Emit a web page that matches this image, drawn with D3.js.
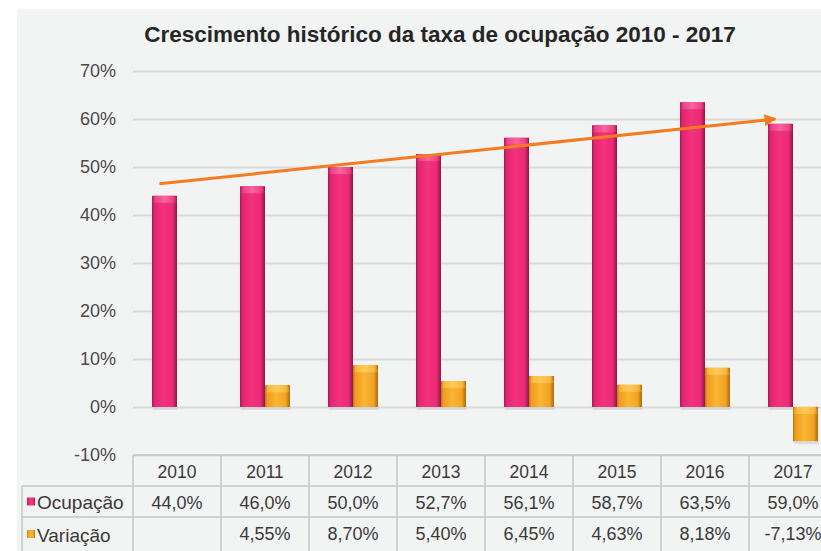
<!DOCTYPE html>
<html><head><meta charset="utf-8">
<script src="https://cdn.jsdelivr.net/npm/d3@7"></script>
<style>body{margin:0;background:#fff} svg{display:block}</style>
</head><body>
<script>
const years = ["2010","2011","2012","2013","2014","2015","2016","2017"];
const ocupacao = [44.0,46.0,50.0,52.7,56.1,58.7,63.5,59.0];
const variacao = [null,4.55,8.70,5.40,6.45,4.63,8.18,-7.13];
const seriesNames = ["Ocupação","Variação"];
const yTicks = [-10,0,10,20,30,40,50,60,70];
const trendYears = ["2010","2017"];
const trendValues = [46.5,60.0];
const title = "Crescimento histórico da taxa de ocupação 2010 - 2017";

const W=821,H=551;
const FONT = "'Liberation Sans', Arial, sans-serif";
const svg = d3.select("body").append("svg").attr("width",W).attr("height",H);
const locale = d3.formatLocale({decimal:",",thousands:".",grouping:[3],currency:["R$",""],minus:"-"});
const f1 = locale.format(".1f"), f2 = locale.format(".2f");

const x = d3.scaleBand().domain(years).range([133,837]).paddingInner(0).paddingOuter(0);
const bw = x.bandwidth();
const xs = d3.scaleBand().domain(seriesNames).range([bw*0.216,bw*0.784]);
const y = d3.scaleLinear().domain([-10,70]).range([455,71]);

const defs = svg.append("defs");
function hgrad(id, stops){
  const g = defs.append("linearGradient").attr("id",id).attr("x1",0).attr("x2",1).attr("y1",0).attr("y2",0);
  stops.forEach(s=>g.append("stop").attr("offset",s[0]).attr("stop-color",s[1]));
}
hgrad("pink",[["0%","#a9175a"],["10%","#e0256e"],["45%","#f4327f"],["82%","#ea2b75"],["100%","#921647"]]);
hgrad("pinkTop",[["0%","#c02064"],["15%","#f0488a"],["50%","#f86aa2"],["85%","#ee4486"],["100%","#b01c5c"]]);
hgrad("orange",[["0%","#b97a12"],["10%","#f09c1e"],["45%","#fbb535"],["82%","#f4a424"],["100%","#a86a0c"]]);
hgrad("orangeTop",[["0%","#d08c18"],["15%","#fbbd45"],["50%","#ffcd5a"],["85%","#f9b840"],["100%","#c48214"]]);
defs.append("marker").attr("id","arrow").attr("viewBox","0 0 10 10").attr("refX",9).attr("refY",5)
  .attr("markerWidth",4).attr("markerHeight",4).attr("orient","auto").attr("markerUnits","strokeWidth")
  .append("path").attr("d","M0,0 L10,5 L0,10 Z").attr("fill","#f47b20");

// panel
svg.append("rect").attr("x",17).attr("y",9).attr("width",W-17).attr("height",H-9).attr("fill","#f2f3f3");

// title
svg.append("text").attr("x",440).attr("y",42).attr("text-anchor","middle")
  .attr("font-family",FONT).attr("font-weight","bold").attr("font-size",22.5).attr("fill","#262626").text(title);

// axis + gridlines
const yAxis = svg.append("g").attr("transform","translate(133,0)")
  .call(d3.axisLeft(y).tickValues(yTicks).tickSize(-(W-133)).tickPadding(17).tickFormat(d=>d+"%"));
yAxis.select(".domain").remove();
yAxis.selectAll(".tick line").attr("stroke","#d8d9d9").attr("stroke-width",2);
yAxis.selectAll(".tick text").attr("font-family",FONT).attr("font-size",18).attr("fill","#4a4a4a");

// bars
const data = years.map((yr,i)=>({year:yr, vals:[{s:"Ocupação",v:ocupacao[i]},{s:"Variação",v:variacao[i]}]}));
const groups = svg.append("g").selectAll("g").data(data).join("g").attr("transform",d=>`translate(${x(d.year)},0)`);
groups.each(function(d){
  const g = d3.select(this);
  d.vals.forEach(o=>{
    if(o.v==null) return;
    const isP = o.s==="Ocupação";
    const x0 = xs(o.s), w = xs.bandwidth();
    const top = y(Math.max(o.v,0)), bot = y(Math.min(o.v,0));
    g.append("rect").attr("x",x0+1).attr("y",bot).attr("width",w).attr("height",3).attr("fill","#c9d0d6").attr("opacity",0.6);
    g.append("rect").attr("x",x0).attr("y",top).attr("width",w).attr("height",bot-top).attr("fill",`url(#${isP?"pink":"orange"})`);
    g.append("path").attr("d",`M${x0+2},${top} L${x0+w-2},${top} L${x0+w},${top+7} L${x0},${top+7} Z`)
      .attr("fill",`url(#${isP?"pinkTop":"orangeTop"})`).attr("opacity",0.9);
  });
});

// trend arrow
svg.append("line")
  .attr("x1",x(trendYears[0])+bw*0.3).attr("y1",y(trendValues[0]))
  .attr("x2",x(trendYears[1])+bw*0.3).attr("y2",y(trendValues[1]))
  .attr("stroke","#f47b20").attr("stroke-width",3).attr("marker-end","url(#arrow)");

// data table
const tb = svg.append("g");
const rowY = [455,486,517,551];
const lc = "#c4c6c6";
tb.append("line").attr("x1",133).attr("x2",W).attr("y1",rowY[0]).attr("y2",rowY[0]).attr("stroke",lc).attr("stroke-width",1.5);
[rowY[1],rowY[2]].forEach(v=>tb.append("line").attr("x1",22).attr("x2",W).attr("y1",v).attr("y2",v).attr("stroke",lc).attr("stroke-width",1.5));
tb.append("line").attr("x1",22).attr("x2",22).attr("y1",rowY[1]).attr("y2",H).attr("stroke",lc).attr("stroke-width",1.5);
years.forEach(yr=>tb.append("line").attr("x1",x(yr)).attr("x2",x(yr)).attr("y1",rowY[0]).attr("y2",H).attr("stroke",lc).attr("stroke-width",1.5));

const txt = (xx,yy,t,anchor,fs)=>tb.append("text").attr("x",xx).attr("y",yy).attr("text-anchor",anchor||"middle")
  .attr("dominant-baseline","central").attr("font-family",FONT).attr("font-size",fs||18).attr("fill","#3a3a3a").text(t);
years.forEach((yr,i)=>{
  const cx = x(yr)+bw/2;
  txt(cx,(rowY[0]+rowY[1])/2+1,yr,"middle",17.5);
  txt(cx,(rowY[1]+rowY[2])/2+1,f1(ocupacao[i])+"%");
  if(variacao[i]!=null) txt(cx,(rowY[2]+rowY[3])/2,f2(variacao[i])+"%");
});
// legend keys
[["pink","Ocupação",1],["orange","Variação",2]].forEach(([c,n,r])=>{
  const cy=(rowY[r]+rowY[r+1])/2;
  tb.append("rect").attr("x",27).attr("y",cy-4).attr("width",8).attr("height",8).attr("fill",`url(#${c})`);
  txt(37,cy+1,n,"start",19);
});
</script>
</body></html>
